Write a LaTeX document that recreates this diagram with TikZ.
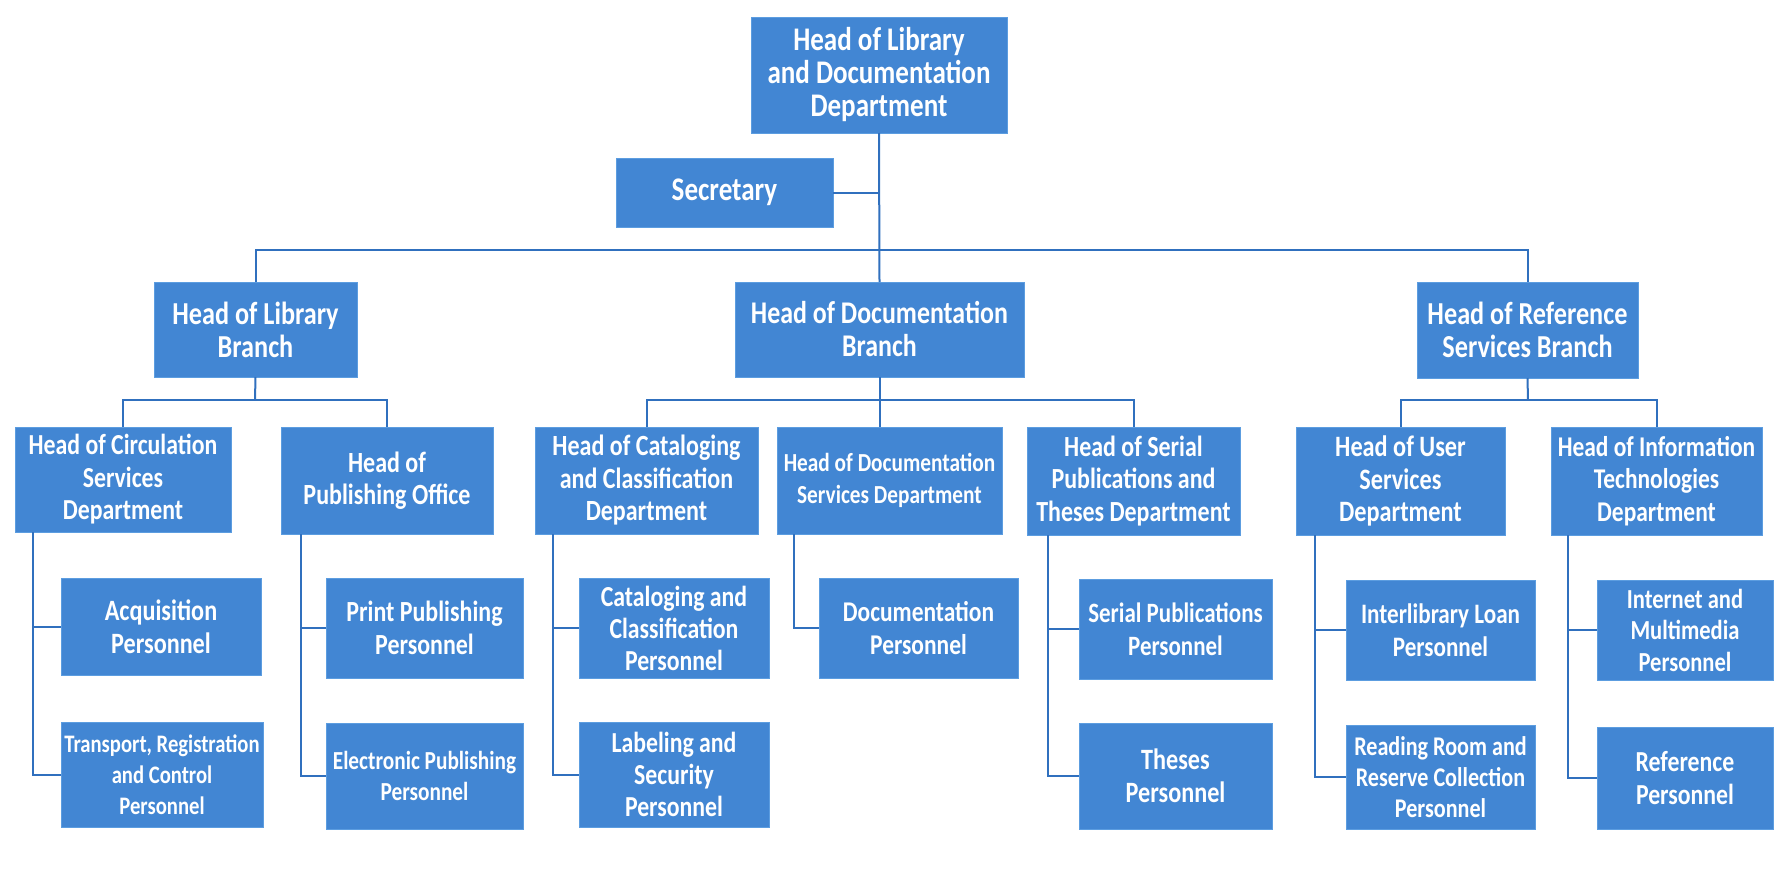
\documentclass[tikz,border=0pt]{standalone}
\usepackage{fontspec}
\setmainfont{Carlito}[FakeStretch=0.82]
\definecolor{boxblue}{RGB}{66,134,211}
\definecolor{boxedge}{RGB}{92,157,224}
\definecolor{linkblue}{RGB}{48,112,190}
\tikzset{
  orgbox/.style={rectangle, fill=boxblue, draw=boxedge, line width=1pt, text=white, align=center, inner sep=0pt, outer sep=0pt},
  fs/.style args={#1/#2}{font=\fontsize{#1}{#2}\selectfont\bfseries},
  link/.style={draw=linkblue, line width=2pt},
}
\newcommand\obox[7]{\node[orgbox,#6,minimum width={(#4-#2)*1pt},minimum height={(#5-#3)*1pt}] (#1) at ({(#2+#4)/2},{(#3+#5)/2}) {#7};}
\begin{document}
\begin{tikzpicture}[x=1pt,y=-1pt]
\useasboundingbox[fill=white] (0,0) rectangle (1792,878);
% level 0
\obox{top}{751}{17}{1007}{133}{fs=33/33}{Head of Library\\and Documentation\\Department}
\obox{sec}{616}{158}{833}{227}{fs=33/33}{Secretary}
% level 1
\obox{lbr}{154}{282}{357}{377}{fs=32/33}{Head of Library\\Branch}
\obox{dbr}{735}{282}{1024}{377}{fs=31.6/33}{Head of Documentation\\Branch}
\obox{rbr}{1417}{282}{1638}{378}{fs=32/33}{Head of Reference\\Services Branch}
% level 2
\obox{circ}{15}{427}{231}{532}{fs=29/32.5}{Head of Circulation\\Services\\Department}
\obox{pub}{281}{427}{493}{534}{fs=29.3/32.5}{Head of\\Publishing Office}
\obox{cat}{535}{427}{758}{534}{fs=29.3/32.5}{Head of Cataloging\\and Classification\\Department}
\obox{dsv}{777}{427}{1002}{534}{fs=26/32}{Head of Documentation\\Services Department}
\obox{ser}{1027}{427}{1240}{535}{fs=29.2/32.5}{Head of Serial\\Publications and\\Theses Department}
\obox{usr}{1296}{427}{1505}{535}{fs=29.6/32.5}{Head of User\\Services\\Department}
\obox{itd}{1551}{427}{1762}{535}{fs=28.6/32.5}{Head of Information\\Technologies\\Department}
% level 3
\obox{acq}{61}{578}{261}{675}{fs=29.5/33}{Acquisition\\Personnel}
\obox{trn}{61}{722}{263}{827}{fs=25.2/31}{Transport, Registration\\and Control\\Personnel}
\obox{prt}{326}{578}{523}{678}{fs=29.2/33}{Print Publishing\\Personnel}
\obox{ele}{326}{723}{523}{829}{fs=26/31.5}{Electronic Publishing\\Personnel}
\obox{cpe}{579}{578}{769}{678}{fs=29/32}{Cataloging and\\Classification\\Personnel}
\obox{lab}{579}{722}{769}{827}{fs=29/32}{Labeling and\\Security\\Personnel}
\obox{dpe}{819}{578}{1018}{678}{fs=28.6/33}{Documentation\\Personnel}
\obox{spe}{1079}{579}{1272}{679}{fs=28/33}{Serial Publications\\Personnel}
\obox{the}{1079}{723}{1272}{829}{fs=29.5/33}{Theses\\Personnel}
\obox{ilp}{1346}{580}{1535}{680}{fs=28.2/33}{Interlibrary Loan\\Personnel}
\obox{rrp}{1346}{725}{1535}{829}{fs=27/31}{Reading Room and\\Reserve Collection\\Personnel}
\obox{inp}{1597}{580}{1773}{680}{fs=27.5/31.5}{Internet and\\Multimedia\\Personnel}
\obox{rfp}{1597}{727}{1773}{829}{fs=29/33}{Reference\\Personnel}
% bus coordinates
\coordinate (b1) at (879,250);
\coordinate (b2l) at (255,400);
\coordinate (b2d) at (879,400);
\coordinate (b2r) at (1528,400);
\coordinate (tcirc) at (33,532);
\coordinate (tpub) at (301,534);
\coordinate (tcat) at (553,534);
\coordinate (tdsv) at (794,534);
\coordinate (tser) at (1048,535);
\coordinate (tusr) at (1315,535);
\coordinate (titd) at (1568,535);
% connectors
\draw[link] (top.south) -- (dbr.north);
\draw[link] (sec.east) -- (sec.east -| top.south);
\draw[link] (lbr.north) |- (b1) -| (rbr.north);
\draw[link] (lbr.south) -- (b2l);
\draw[link] (circ.north) |- (b2l) -| (pub.north);
\draw[link] (dbr.south) -- (dbr.south |- dsv.north);
\draw[link] (cat.north) |- (b2d) -| (ser.north);
\draw[link] (rbr.south) -- (b2r);
\draw[link] (usr.north) |- (b2r) -| (itd.north);
\draw[link] (tcirc) |- (trn.west);
\draw[link] (acq.west) -- (acq.west -| tcirc);
\draw[link] (tpub) |- (ele.west);
\draw[link] (prt.west) -- (prt.west -| tpub);
\draw[link] (tcat) |- (lab.west);
\draw[link] (cpe.west) -- (cpe.west -| tcat);
\draw[link] (tdsv) |- (dpe.west);
\draw[link] (tser) |- (the.west);
\draw[link] (spe.west) -- (spe.west -| tser);
\draw[link] (tusr) |- (rrp.west);
\draw[link] (ilp.west) -- (ilp.west -| tusr);
\draw[link] (titd) |- (rfp.west);
\draw[link] (inp.west) -- (inp.west -| titd);
\end{tikzpicture}
\end{document}
